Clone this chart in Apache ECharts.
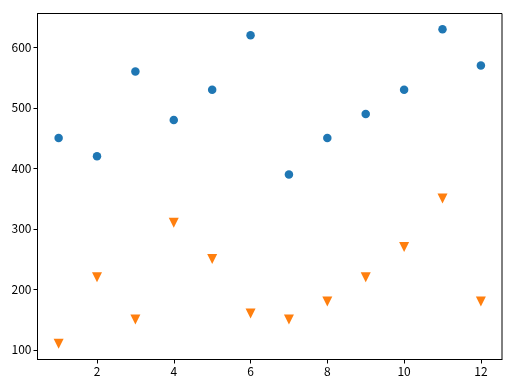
<!DOCTYPE html>
<html><head><meta charset="utf-8">
<script src="https://cdn.jsdelivr.net/npm/echarts@6/dist/echarts.min.js"></script>
<style>html,body{margin:0;padding:0;background:#fff}#c{width:511px;height:386px}</style>
</head><body><div id="c"></div>
<script>
const xs = [1,2,3,4,5,6,7,8,9,10,11,12];
const seriesA = [450,420,560,480,530,620,390,450,490,530,630,570];
const seriesB = [110,220,150,310,250,160,150,180,220,270,350,180];
const xTicks = [2,4,6,8,10,12];
const yTicks = [100,200,300,400,500,600];
const font = '"Noto Sans CJK SC", "DejaVu Sans", sans-serif';
const chart = echarts.init(document.getElementById('c'), null, {renderer:'canvas'});
chart.setOption({
  animation:false,
  grid:{left:37.5, top:13.5, width:464.5, height:346, show:true, borderColor:'#000', borderWidth:1, backgroundColor:'transparent'},
  xAxis:{type:'value', min:0.45, max:12.55,
    axisLine:{show:true, lineStyle:{color:'#000', width:1}},
    axisTick:{show:true, length:4, lineStyle:{color:'#000'}, customValues:xTicks},
    axisLabel:{color:'#000', fontSize:12, fontFamily:font, margin:6, customValues:xTicks},
    splitLine:{show:false}},
  yAxis:{type:'value', min:84, max:656,
    axisLine:{show:true, lineStyle:{color:'#000', width:1}},
    axisTick:{show:true, length:4, lineStyle:{color:'#000'}, customValues:yTicks},
    axisLabel:{color:'#000', fontSize:12, fontFamily:font, margin:6, customValues:yTicks},
    splitLine:{show:false}},
  series:[
    {type:'scatter', data:xs.map((x,i)=>[x,seriesA[i]]), symbol:'circle', symbolSize:8.5, itemStyle:{color:'#1f77b4', opacity:1}},
    {type:'scatter', data:xs.map((x,i)=>[x,seriesB[i]]), symbol:'triangle', symbolRotate:180, symbolSize:10, itemStyle:{color:'#ff7f0e', opacity:1}}
  ]
});
</script></body></html>
